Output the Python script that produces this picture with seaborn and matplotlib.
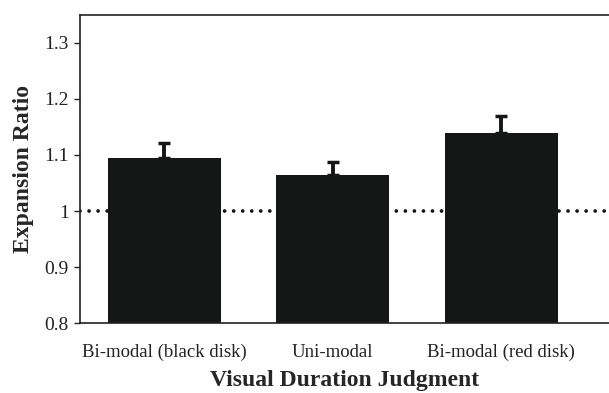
import matplotlib
matplotlib.use("Agg")
import matplotlib.pyplot as plt
import seaborn as sns
import pandas as pd

categories = ["Bi-modal (black disk)", "Uni-modal", "Bi-modal (red disk)"]
values = [1.095, 1.065, 1.139]
errors = [0.026, 0.022, 0.031]
yticks = [0.8, 0.9, 1.0, 1.1, 1.2, 1.3]
ytick_labels = ["0.8", "0.9", "1", "1.1", "1.2", "1.3"]

sns.set_theme(style="white")
plt.rcParams["font.family"] = ["Liberation Serif", "DejaVu Serif"]

df = pd.DataFrame({"cond": categories, "ratio": values})

fig = plt.figure(figsize=(6.09, 3.93), dpi=100)
ax = fig.add_axes([0.131, 0.178, 0.869, 0.784])

ax.axhline(1.0, color="#151515", linestyle=(0, (0.01, 2.4)), linewidth=2.7,
           dash_capstyle="round", zorder=0)
sns.barplot(data=df, x="cond", y="ratio", color="#151717", width=0.67,
            errorbar=None, ax=ax, zorder=2, saturation=1)
for p in ax.patches:
    p.set_edgecolor("none")
xs = list(range(len(categories)))
ax.errorbar(xs, values, yerr=[[0] * len(errors), errors], fmt="none",
            ecolor="#151717", elinewidth=2.8, capsize=4, capthick=2.5, zorder=3)

ax.set_ylim(0.8, 1.35)
ax.set_xlim(-0.5, 2.64)
ax.set_yticks(yticks)
ax.set_yticklabels(ytick_labels)
ax.tick_params(axis="y", which="both", left=True, length=4, width=1, direction="out",
               labelsize=14, colors="#222222", pad=4)
ax.tick_params(axis="x", bottom=False, labelsize=13.5, pad=9, colors="#222222")
ax.set_ylabel("Expansion Ratio", fontsize=17, fontweight="bold", labelpad=7)
ax.set_xlabel("Visual Duration Judgment", fontsize=17, fontweight="bold", labelpad=6)

for s in ["left", "top", "bottom"]:
    ax.spines[s].set_visible(True)
    ax.spines[s].set_color("#222222")
    ax.spines[s].set_linewidth(1.2)
ax.spines["right"].set_visible(False)

fig.savefig("out.png", dpi=100)
